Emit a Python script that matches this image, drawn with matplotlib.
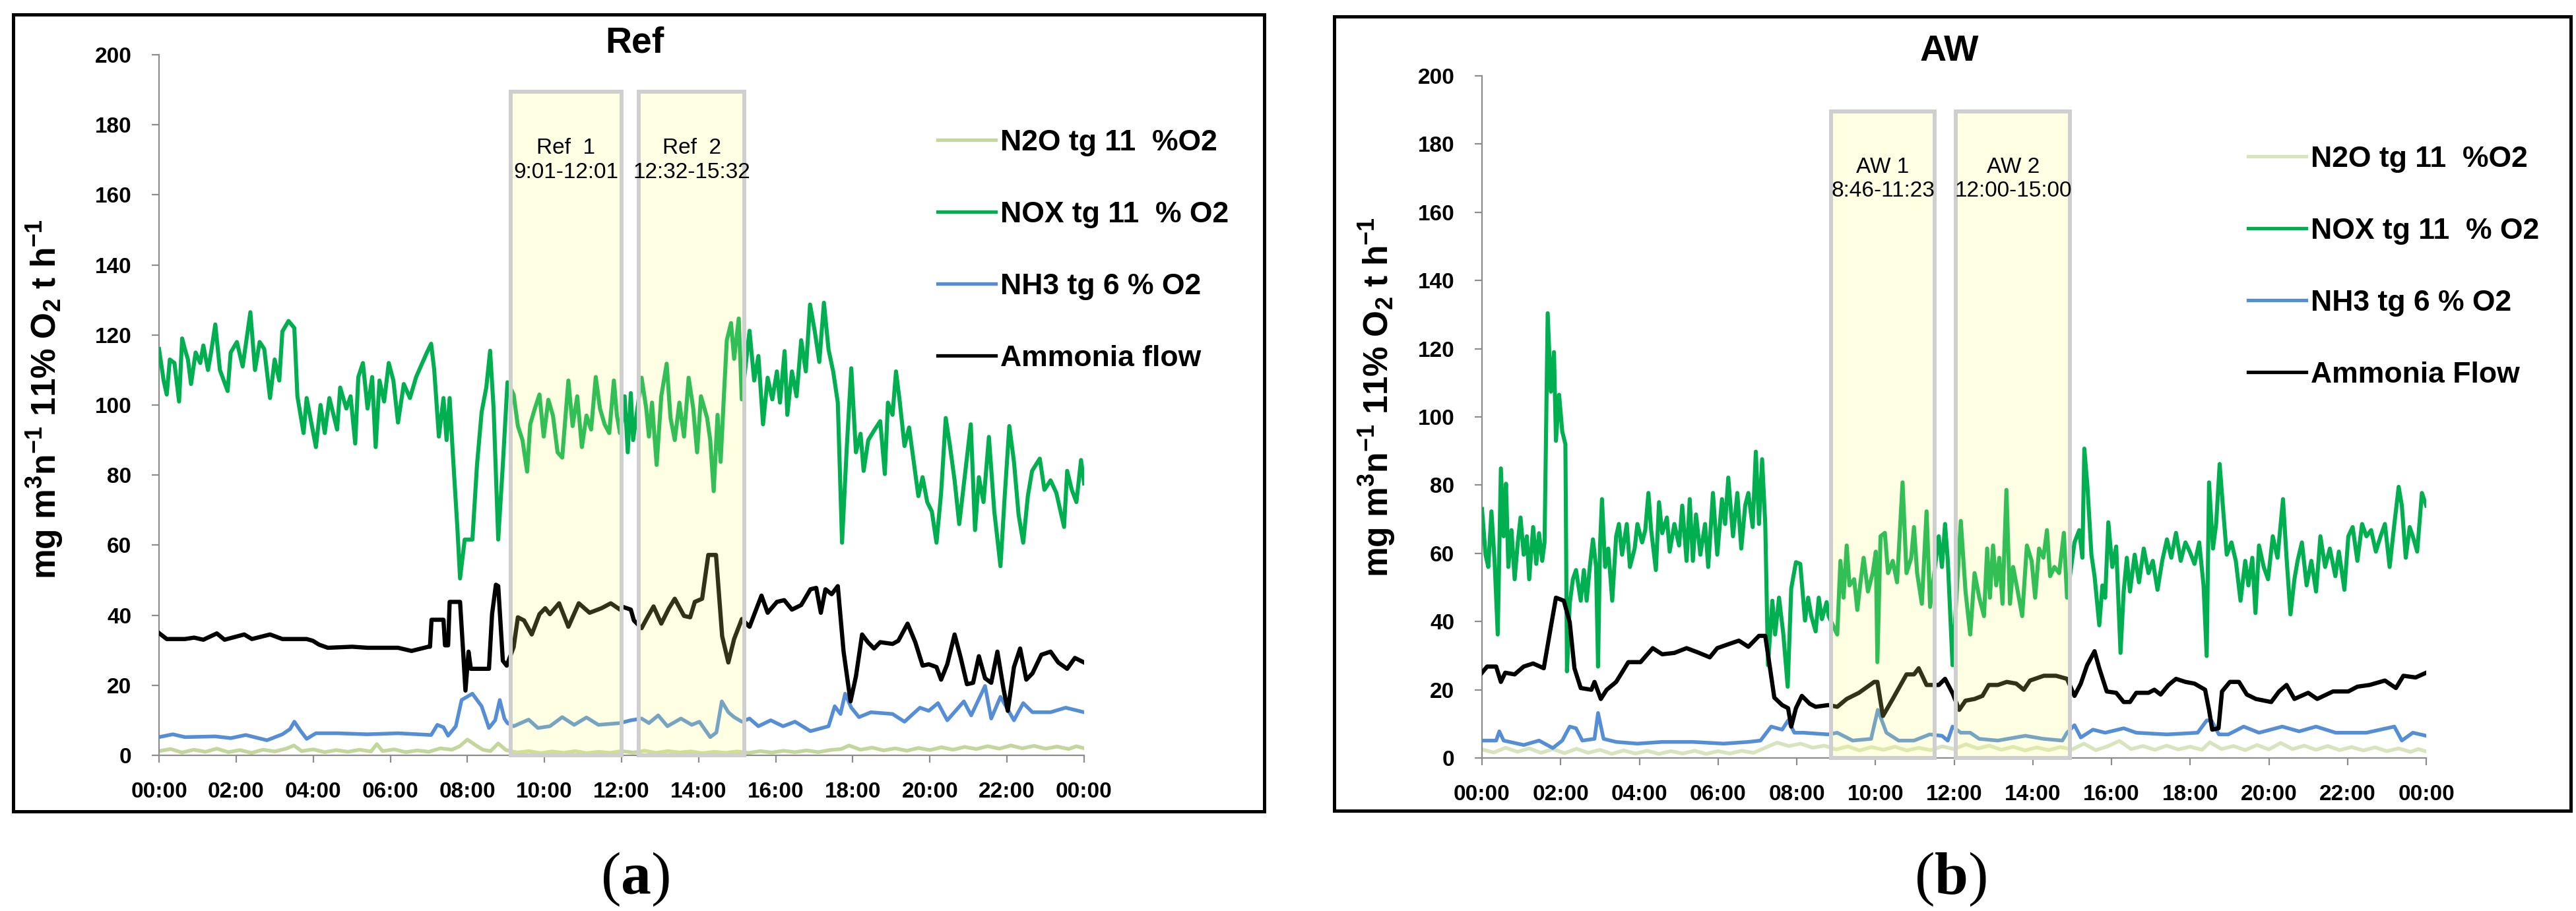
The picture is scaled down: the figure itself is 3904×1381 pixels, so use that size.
import numpy as np
import matplotlib
matplotlib.use("Agg")
import matplotlib.pyplot as plt
from matplotlib import font_manager as fm
from matplotlib.patches import Rectangle

# ---------------- data (hours, mg m3n-1) ----------------
ref_nox = [(0.00,116),(0.12,107),(0.20,103),(0.28,113),(0.40,112),(0.52,101),(0.60,119),(0.67,116),(0.75,113),(0.83,106),
           (0.95,115),(1.07,112),(1.15,117),(1.27,110),(1.35,115),(1.46,123),(1.58,110),(1.78,104),(1.86,115),(2.02,118),
           (2.17,111),(2.37,126.5),(2.49,110),(2.61,118),(2.73,116),(2.88,102),(3.00,113),(3.12,107),(3.20,121),(3.36,124),
           (3.51,122),(3.59,102.5),(3.75,92),(3.83,102),(4.07,88),(4.19,100),(4.30,92),(4.42,102),(4.62,93),(4.70,105),
           (4.86,99),(4.97,102.5),(5.09,89),(5.17,108),(5.29,112),(5.41,99),(5.53,108),(5.62,88),(5.72,107),(5.84,101),
           (5.96,112),(6.08,107),(6.20,95),(6.35,106),(6.51,102),(6.67,108),(6.79,111),(6.95,115),(7.06,117.5),(7.14,110),
           (7.26,91),(7.38,102),(7.46,90),(7.54,102),(7.62,86.5),(7.74,65),(7.81,50.5),(7.93,61.6),(8.13,61.6),(8.25,83),
           (8.37,98),(8.49,105),(8.59,115.5),(8.68,99),(8.80,61.6),(8.92,83),(9.04,106.5),(9.20,103),(9.31,94),(9.43,90),
           (9.55,81),(9.63,94.5),(9.75,99),(9.87,103),(9.98,91),(10.10,101.5),(10.22,97),(10.34,86.5),(10.46,85),(10.62,107),
           (10.73,94),(10.85,102.5),(10.97,88),(11.09,97),(11.21,93),(11.33,108),(11.44,99),(11.56,94.5),(11.68,92),(11.80,107),
           (11.88,97),(11.96,92),(12.00,94.5),(12.08,102.5),(12.16,86.5),(12.24,103.4),(12.30,90),(12.52,107.8),(12.64,99),(12.71,91),
           (12.79,100.7),(12.91,82.9),(13.03,102.5),(13.17,111.8),(13.27,96.3),(13.38,90),(13.50,100.7),(13.62,91),(13.74,107.8),(13.86,99),
           (13.96,86.5),(14.06,102.5),(14.22,96.3),(14.30,90),(14.39,75.4),(14.49,97.2),(14.57,83.8),(14.65,101.6),(14.73,118.5),(14.84,123.4),
           (14.92,113.2),(15.04,124.7),(15.12,101.6),(15.32,121.2),(15.44,107),(15.55,114),(15.67,94.5),(15.79,107.8),(15.91,101.6),(16.03,109.6),
           (16.11,100.7),(16.23,115.4),(16.30,97.2),(16.42,109.6),(16.54,102.5),(16.66,118.5),(16.78,109.6),(16.89,128.7),(17.01,121.2),(17.13,112.3),
           (17.25,129.2),(17.37,115.8),(17.49,109.6),(17.61,100.7),(17.72,60.7),(17.84,87.4),(17.96,110.5),(18.08,86.5),(18.20,91.8),(18.28,81.2),
           (18.40,90),(18.55,92.7),(18.71,95.4),(18.83,80.3),(18.91,100.7),(19.03,97.2),(19.12,109.6),(19.22,100.7),(19.34,88.3),(19.46,93.6),
           (19.58,83.8),(19.70,74),(19.81,79.4),(19.93,72.3),(20.05,69.6),(20.17,60.7),(20.29,74.9),(20.41,96.3),(20.52,88.3),(20.64,78.5),
           (20.76,66),(20.92,81.2),(21.06,94.5),(21.17,64.3),(21.27,79.4),(21.39,72.3),(21.53,90.9),(21.67,69.6),(21.83,54),(21.94,74),
           (22.06,94),(22.18,83.8),(22.30,68.7),(22.42,60.7),(22.54,74),(22.65,81.2),(22.85,84.7),(22.97,75.8),(23.13,78.5),(23.28,74.9),
           (23.48,65.2),(23.56,81.2),(23.68,75.8),(23.80,72.3),(23.92,84.3),(24.00,77.6)]

ref_flow = [(0.00,34.9),(0.20,33.2),(0.67,33.2),(0.91,33.6),(1.15,33),(1.50,34.8),(1.70,33),(2.21,34.5),(2.41,33.2),(2.88,34.5),
            (3.20,33.2),(3.83,33.2),(3.99,32.7),(4.15,31.6),(4.38,30.7),(5.01,31),(5.41,30.7),(6.20,30.7),(6.55,29.8),(6.99,31),
            (7.03,31),(7.07,38.7),(7.38,38.7),(7.42,31.4),(7.50,31.4),(7.54,43.8),(7.81,43.8),(7.89,29.6),(7.95,18.5),(8.03,29.6),
            (8.09,24.7),(8.56,24.7),(8.64,40.3),(8.74,48.7),(8.80,48.3),(8.92,27),(9.02,25.6),(9.20,30.9),(9.31,39.4),(9.47,38.5),
            (9.67,34.5),(9.87,40.3),(10.02,42),(10.14,40.3),(10.38,43.4),(10.62,36.7),(10.89,43.4),(11.17,40.7),(11.48,42),(11.72,43.4),
            (11.96,41.6),(12.00,42.5),(12.24,41.6),(12.32,38.5),(12.52,36.3),(12.67,39.4),(12.83,42.5),(13.03,37.6),(13.23,42),(13.38,44.7),
            (13.62,39.8),(13.78,39.4),(13.90,43.8),(14.09,44.7),(14.25,57.2),(14.45,57.2),(14.61,34),(14.77,26.5),(14.92,33.2),(15.12,38.9),
            (15.32,36.7),(15.63,45.6),(15.79,40.7),(16.03,43.8),(16.22,44.3),(16.42,41.6),(16.66,42.9),(16.90,47.4),(17.05,47.8),(17.17,40.7),
            (17.29,47.4),(17.45,46),(17.61,48.3),(17.76,29.6),(17.94,15.4),(18.08,22.5),(18.24,34.5),(18.39,32.3),(18.55,30.5),(18.71,32.3),
            (19.03,31.8),(19.18,32.7),(19.42,37.6),(19.62,32.3),(19.81,25.6),(19.97,26),(20.17,25.2),(20.29,21.6),(20.45,26),(20.64,34.5),
            (20.80,27.8),(20.96,20.3),(21.12,20.7),(21.27,28.3),(21.43,22),(21.59,20.7),(21.75,29.6),(21.91,18.9),(22.02,12.7),(22.18,25.2),
            (22.34,30.5),(22.50,21.6),(22.66,23.4),(22.89,28.7),(23.13,29.6),(23.33,26.5),(23.56,24.7),(23.76,27.8),(24.00,26.5)]

ref_nh3 = [(0.00,5.2),(0.36,6),(0.67,5.2),(1.46,5.4),(1.86,4.9),(2.25,5.8),(2.80,4.3),(3.20,6),(3.40,7.5),(3.51,9.6),
           (3.67,7),(3.83,4.7),(4.07,6.3),(4.62,6.3),(5.41,6),(6.20,6.3),(7.06,5.8),(7.22,8.7),(7.38,8),(7.50,5.6),
           (7.70,8.3),(7.85,15.8),(8.13,17.6),(8.37,14),(8.56,7.8),(8.72,10),(8.84,15.8),(8.96,10.5),(9.04,9.2),(9.20,8.3),
           (9.59,10.2),(9.83,7.8),(10.14,8.3),(10.46,10.9),(10.77,8.7),(11.09,10.8),(11.40,8.7),(11.96,9.2),(12.24,10),(12.52,10.5),
           (12.71,9.2),(12.95,11.4),(13.19,8.3),(13.54,10.5),(13.82,8.7),(14.02,9.6),(14.30,5.2),(14.46,6.5),(14.60,15.4),(14.77,12.3),
           (14.92,10.9),(15.12,9.6),(15.32,10.5),(15.55,8.3),(15.87,10),(16.19,8.3),(16.50,9.6),(16.90,6.9),(17.37,8.3),(17.53,14),
           (17.68,11.8),(17.80,17.6),(17.96,13.6),(18.16,10.9),(18.47,12.3),(19.03,11.8),(19.34,9.6),(19.74,13.6),(19.97,12.7),(20.21,14.9),
           (20.45,10),(20.88,15.4),(21.07,11.4),(21.43,19.8),(21.59,10.5),(21.83,16.7),(22.18,10),(22.42,14.9),(22.66,12.3),(23.13,12.3),
           (23.52,13.6),(24.00,12.3)]

ref_n2o = [(0,1.2),(0.3,1.8),(0.6,0.8),(0.9,1.6),(1.2,1.0),(1.5,1.9),(1.8,0.9),(2.1,1.5),(2.4,0.7),(2.7,1.6),
           (3.0,1.1),(3.3,1.9),(3.5,2.8),(3.7,1.2),(4.0,1.7),(4.3,0.9),(4.6,1.5),(4.9,1.0),(5.2,1.6),(5.5,1.1),
           (5.65,3.2),(5.8,1.2),(6.1,1.7),(6.4,0.9),(6.7,1.4),(7.0,1.0),(7.3,2.0),(7.6,1.6),(7.8,2.6),(8.0,4.5),
           (8.2,3.0),(8.4,1.6),(8.6,1.2),(8.8,3.4),(9.0,1.5),(9.3,0.8),(9.6,1.2),(9.9,0.6),(10.2,1.1),(10.5,0.7),
           (10.8,1.2),(11.1,0.6),(11.4,1.0),(11.7,0.7),(12.0,1.2),(12.3,0.8),(12.6,1.3),(12.9,0.7),(13.2,1.2),(13.5,0.8),
           (13.8,1.1),(14.1,0.6),(14.4,1.0),(14.7,0.7),(15.0,1.1),(15.3,0.7),(15.6,1.2),(15.9,0.8),(16.2,1.3),(16.5,0.9),
           (16.8,1.4),(17.1,0.9),(17.4,1.5),(17.7,1.8),(17.9,2.8),(18.2,1.6),(18.5,2.2),(18.8,1.4),(19.1,2.0),(19.4,1.3),
           (19.7,2.1),(20.0,1.5),(20.3,2.3),(20.6,1.6),(20.9,2.4),(21.2,1.8),(21.5,2.6),(21.8,1.9),(22.1,2.8),(22.4,2.0),
           (22.7,2.7),(23.0,1.9),(23.3,2.5),(23.6,1.8),(23.8,2.6),(24.0,2.0)]

aw_nox = [(0.00,73),(0.09,59.6),(0.16,56),(0.24,72.3),(0.32,57.8),(0.40,36.2),(0.48,84.9),(0.55,65),(0.61,80.4),(0.67,56),
          (0.75,66.8),(0.83,52.4),(0.91,63.2),(0.98,70.5),(1.06,59.6),(1.14,65),(1.20,52.4),(1.30,67.7),(1.38,56.9),(1.45,65.9),
          (1.53,57.8),(1.59,63.2),(1.67,130.4),(1.75,107.4),(1.83,119),(1.88,93),(1.96,106.5),(2.04,95.7),(2.12,92),(2.16,25.4),
          (2.23,45.2),(2.31,52.4),(2.39,55.1),(2.51,46.1),(2.59,55.1),(2.66,46.1),(2.74,56),(2.82,64.1),(2.90,56),(2.95,26.8),
          (3.00,62.3),(3.05,75.9),(3.13,56),(3.21,61.4),(3.31,46.1),(3.41,65),(3.48,68.6),(3.56,59.6),(3.68,68.6),(3.76,56),
          (3.88,61.4),(3.95,68.6),(4.07,63.2),(4.15,66.8),(4.23,77.7),(4.30,66.8),(4.42,55.1),(4.50,75),(4.58,65.9),(4.70,70.5),
          (4.77,60.5),(4.89,68.6),(5.01,62.3),(5.09,74),(5.20,57.8),(5.28,75.9),(5.36,57.8),(5.44,71.4),(5.55,59.6),(5.67,68.6),
          (5.75,56),(5.87,77.7),(5.98,59.6),(6.10,75.9),(6.18,68.6),(6.26,82.2),(6.38,65),(6.49,77.7),(6.59,61.4),(6.69,74),
          (6.77,77.7),(6.88,67.7),(6.96,89.8),(7.04,68.6),(7.12,87.6),(7.20,68.6),(7.27,27.2),(7.38,46.1),(7.45,36.2),(7.55,47),
          (7.66,36.2),(7.77,20.9),(7.86,49.7),(7.98,57.4),(8.09,56.9),(8.21,40.3),(8.29,47),(8.37,41.6),(8.48,37.1),(8.56,47),
          (8.64,40.7),(8.76,45.7),(8.81,41.6),(9.03,36.2),(9.11,57.8),(9.19,47),(9.27,62.3),(9.34,50.6),(9.46,52.4),(9.54,43.4),
          (9.62,51.5),(9.70,58.7),(9.81,48.8),(9.93,54.2),(10.01,60.5),(10.05,28.1),(10.13,65),(10.24,66),(10.32,54.2),(10.44,57.8),
          (10.55,51.5),(10.69,80.8),(10.79,54.2),(10.91,58.7),(10.98,67.7),(11.06,54.2),(11.18,45.2),(11.30,72.3),(11.39,44.3),(11.61,65),
          (11.69,56),(11.77,68.6),(11.84,57.8),(11.96,27.2),(12.17,69.5),(12.29,48.8),(12.41,36.2),(12.52,54.2),(12.64,47),(12.76,41.6),
          (12.84,61.4),(12.91,47),(12.99,62.3),(13.07,50.6),(13.15,58.7),(13.23,45.2),(13.33,78.6),(13.42,45.2),(13.50,56),(13.59,50.6),
          (13.73,41.6),(13.85,62.3),(13.97,57.8),(14.06,47),(14.16,61.4),(14.27,58.7),(14.36,66.8),(14.44,53.3),(14.55,56),(14.67,54.2),
          (14.79,66),(14.87,47),(15.06,63.2),(15.18,66.8),(15.26,58.7),(15.31,90.7),(15.39,79.5),(15.49,59.6),(15.57,53.3),(15.69,38.9),
          (15.77,50.6),(15.84,47),(15.92,69.1),(16.02,56),(16.12,62),(16.23,30.8),(16.31,48.8),(16.39,58.7),(16.47,48.8),(16.59,59.6),
          (16.70,51.5),(16.82,61.4),(16.94,54.2),(17.05,57.8),(17.17,49.3),(17.29,57.8),(17.41,64.1),(17.52,58.7),(17.64,66),(17.76,57.8),
          (17.88,63.2),(17.99,60.5),(18.11,56.9),(18.23,63.2),(18.34,50.6),(18.42,29.9),(18.48,80.8),(18.58,61.4),(18.66,68.6),(18.75,86.2),
          (18.83,74),(18.93,59.6),(19.05,63.2),(19.16,57.8),(19.28,46.1),(19.40,57.8),(19.48,50.6),(19.58,58.7),(19.66,42.5),(19.75,62.3),
          (19.87,56),(19.98,52.4),(20.10,65),(20.22,58.7),(20.36,75.9),(20.45,58.7),(20.55,42.1),(20.65,52.4),(20.73,57.8),(20.84,63.2),
          (20.96,50.6),(21.08,57.8),(21.20,48.8),(21.31,65),(21.43,56),(21.55,61.4),(21.69,53.3),(21.78,60.5),(21.92,49.3),(22.02,65),
          (22.13,67.7),(22.25,57.8),(22.37,68.6),(22.48,65),(22.60,66.8),(22.72,60.5),(22.84,65),(22.95,68.6),(23.07,56),(23.19,68.6),
          (23.30,79.5),(23.38,74),(23.48,58.7),(23.58,67.7),(23.66,65),(23.77,60.5),(23.89,77.7),(24.00,74)]

aw_flow = [(0.00,25),(0.13,26.8),(0.36,26.8),(0.48,22.3),(0.59,25),(0.83,24.5),(1.06,26.8),(1.30,27.7),(1.57,26.3),(1.73,37.1),
           (1.88,47),(2.08,46.1),(2.23,39.8),(2.35,26.3),(2.51,20.5),(2.78,20),(2.86,22.3),(3.02,17.3),(3.17,20),(3.41,22.3),
           (3.72,28.1),(4.03,28.1),(4.34,32.2),(4.58,30.4),(4.89,30.8),(5.20,32.2),(5.52,30.8),(5.79,29.5),(5.98,32.2),(6.30,33.5),
           (6.53,34.4),(6.77,32.6),(7.04,35.8),(7.20,35.8),(7.31,27.2),(7.43,17.7),(7.63,15.5),(7.78,14.6),(7.86,9.2),(7.98,14.6),
           (8.13,18.2),(8.33,15.9),(8.48,15),(8.80,15.5),(9.03,15),(9.27,17.3),(9.58,19.1),(9.97,22.3),(10.05,22.3),(10.19,12.3),
           (10.44,17.3),(10.79,24.5),(10.98,24.5),(11.10,26.3),(11.30,21.4),(11.41,21.4),(11.61,21.4),(11.77,23.2),(11.96,19),(12.13,14.1),
           (12.29,16.8),(12.52,17.3),(12.72,18.2),(12.88,21.4),(13.11,21.4),(13.34,22.3),(13.58,21.8),(13.77,20),(13.93,22.7),(14.28,24.1),
           (14.59,24.1),(14.87,23.2),(15.06,18.2),(15.22,21.8),(15.38,27.2),(15.57,31.3),(15.69,26.3),(15.88,19.5),(16.12,19.1),(16.31,16.4),
           (16.47,16.4),(16.63,19.1),(16.94,19.1),(17.09,20),(17.25,18.6),(17.45,21.4),(17.64,23.2),(17.88,22.3),(18.11,21.8),(18.38,20),
           (18.48,14.1),(18.56,8.3),(18.72,8.7),(18.81,19.5),(19.01,22.3),(19.24,22.3),(19.44,18.6),(19.67,17.3),(20.06,16.4),(20.26,19.5),
           (20.45,21.4),(20.65,17.3),(21.00,19.1),(21.23,17.3),(21.63,19.5),(22.02,19.5),(22.25,20.9),(22.56,21.4),(22.95,22.7),(23.23,20.5),
           (23.42,24.1),(23.73,23.6),(24.00,25)]

aw_nh3 = [(0.00,5.1),(0.36,5.1),(0.44,7.8),(0.55,5.1),(1.06,3.8),(1.45,5.1),(1.80,2.9),(2.04,5.1),(2.23,9.2),(2.39,8.7),
          (2.55,5.1),(2.86,5.6),(2.95,13.2),(3.09,5.6),(3.41,4.7),(3.95,4.2),(4.58,4.7),(5.36,4.7),(6.14,4.2),(6.77,4.7),
          (7.08,5.1),(7.35,9.2),(7.63,8.3),(7.78,11),(7.94,7.4),(8.17,7.4),(8.80,6.9),(9.03,7.4),(9.42,5.1),(9.89,5.6),
          (10.06,14.1),(10.28,7.4),(10.59,5.1),(10.98,5.1),(11.38,6.9),(11.69,6.5),(11.84,5.1),(11.96,9.2),(12.17,7.4),(12.41,7.4),
          (12.64,5.6),(13.11,5.1),(13.81,6.5),(14.28,5.6),(14.75,5.1),(14.87,7.4),(15.06,9.6),(15.22,6),(15.53,8.3),(15.84,7.4),
          (16.31,8.7),(16.63,7.4),(17.41,6.9),(18.19,7.4),(18.42,11),(18.54,11),(18.73,6.9),(18.97,6.9),(19.36,9.2),(19.75,7.4),
          (20.34,9.2),(20.77,7.8),(21.20,9.2),(21.70,7.4),(22.48,7.4),(23.19,9.2),(23.38,5.1),(23.66,7.4),(24.00,6.5)]

aw_n2o = [(0,2.5),(0.3,1.6),(0.6,3.0),(0.9,1.8),(1.2,2.8),(1.5,1.5),(1.8,2.6),(2.1,1.4),(2.4,2.7),(2.7,1.5),
          (3.0,2.4),(3.3,1.2),(3.6,2.2),(3.9,1.3),(4.2,2.1),(4.5,1.2),(4.8,2.0),(5.1,1.3),(5.4,2.1),(5.7,1.2),
          (6.0,2.0),(6.3,1.3),(6.6,2.1),(6.9,1.5),(7.2,3.0),(7.5,4.5),(7.8,3.5),(8.1,4.2),(8.4,3.0),(8.7,3.6),
          (9.0,2.5),(9.3,3.4),(9.6,2.2),(9.9,3.2),(10.2,2.4),(10.5,3.3),(10.8,2.2),(11.1,3.0),(11.4,2.3),(11.7,3.4),
          (12.0,2.6),(12.3,4.0),(12.6,2.8),(12.9,3.6),(13.2,2.4),(13.5,3.3),(13.8,2.2),(14.1,3.1),(14.4,2.3),(14.7,3.2),
          (15.0,2.5),(15.3,4.2),(15.6,2.3),(15.9,3.4),(16.2,5.0),(16.5,2.6),(16.8,3.5),(17.1,2.4),(17.4,3.6),(17.7,2.5),
          (18.0,3.3),(18.3,2.4),(18.5,4.6),(18.8,2.6),(19.1,3.5),(19.4,2.3),(19.7,3.8),(20.0,2.5),(20.3,4.4),(20.6,2.6),
          (20.9,3.6),(21.2,2.4),(21.5,3.5),(21.8,2.3),(22.1,3.2),(22.4,2.2),(22.7,3.1),(23.0,2.0),(23.3,2.8),(23.6,1.8),
          (23.8,2.6),(24.0,1.9)]

# sampling windows (start h, end h, name, time span)
ref_windows = [(9.12, 12.0, "Ref  1", "9:01-12:01"), (12.45, 15.18, "Ref  2", "12:32-15:32")]
aw_windows = [(8.88, 11.5, "AW 1", "8:46-11:23"), (12.05, 14.95, "AW 2", "12:00-15:00")]

series_labels = ["N2O tg 11  %O2", "NOX tg 11  % O2", "NH3 tg 6 % O2"]

hour_ticks = list(range(0, 25, 2))
hour_labels = ["%02d:00" % (h % 24) for h in hour_ticks]

# ---------------- fonts ----------------
names = {f.name for f in fm.fontManager.ttflist}
narrow = None
for cand in ("Liberation Sans Narrow", "Arial Narrow", "Nimbus Sans Narrow"):
    if cand in names:
        narrow = cand
        break
if narrow is None:
    narrow = "Liberation Sans"
    small_size = 24
else:
    small_size = 27

plt.rcParams["font.family"] = ["Liberation Sans", "DejaVu Sans"]
plt.rcParams["mathtext.fontset"] = "custom"
plt.rcParams["mathtext.bf"] = "Liberation Serif:bold"
plt.rcParams["mathtext.default"] = "regular"

W, H = 3904, 1381
fig = plt.figure(figsize=(W / 100, H / 100), dpi=100)
fig.patch.set_facecolor("white")


def fx(x):
    return x / W


def fy(y):
    return 1 - y / H


def draw_panel(ax, nox, flow, nh3, n2o, n2o_color, windows, flow_label):
    t, v = np.array(n2o).T
    ax.plot(t, v, color=n2o_color, lw=4.0, label=series_labels[0], zorder=2)
    t, v = np.array(nox).T
    ax.plot(t, v, color="#00b050", lw=4.4, label=series_labels[1], zorder=3)
    t, v = np.array(nh3).T
    ax.plot(t, v, color="#558ed5", lw=4.0, label=series_labels[2], zorder=4)
    t, v = np.array(flow).T
    ax.plot(t, v, color="black", lw=4.6, label=flow_label, zorder=5)

    for t0, t1, name, span in windows:
        ax.add_patch(Rectangle((t0, 0), t1 - t0, 189.5, facecolor=(1, 1, 0.45, 0.2),
                               edgecolor="#cfcfcf", lw=4.3, zorder=6, clip_on=False))
        xc = (t0 + t1) / 2
        ax.text(xc, 173.3, name, ha="center", va="center", fontsize=small_size, family=narrow, zorder=7)
        ax.text(xc, 166.3, span, ha="center", va="center", fontsize=small_size, family=narrow, zorder=7)

    ax.set_xlim(0, 24)
    ax.set_ylim(0, 200)
    ax.set_xticks(hour_ticks)
    ax.set_xticklabels(hour_labels)
    ax.set_yticks(range(0, 201, 20))
    for s in ("top", "right"):
        ax.spines[s].set_visible(False)
    for s in ("left", "bottom"):
        ax.spines[s].set_color("#8c8c8c")
        ax.spines[s].set_linewidth(1.6)
    ax.tick_params(axis="both", direction="out", length=8, width=1.6, color="#8c8c8c",
                   labelsize=small_size)
    ax.tick_params(axis="x", pad=21)
    ax.tick_params(axis="y", pad=22)
    for lab in ax.get_xticklabels() + ax.get_yticklabels():
        lab.set_family(narrow)
        lab.set_fontweight("bold")
    ax.set_facecolor("none")


axA = fig.add_axes([fx(241), fy(1145), (1643 - 241) / W, (1145 - 83) / H])
axB = fig.add_axes([fx(2246), fy(1149), (3677 - 2246) / W, (1149 - 115) / H])

draw_panel(axA, ref_nox, ref_flow, ref_nh3, ref_n2o, "#c3d69b", ref_windows, "Ammonia flow")
draw_panel(axB, aw_nox, aw_flow, aw_nh3, aw_n2o, "#d7e4bd", aw_windows, "Ammonia Flow")

ylab = "mg m$^{3}$n$^{-1}$ 11% O$_{2}$ t h$^{-1}$"
fig.text(fx(68), fy(605), ylab, rotation=90, ha="center", va="center", fontsize=37, fontweight="bold")
fig.text(fx(2087), fy(602), ylab, rotation=90, ha="center", va="center", fontsize=37, fontweight="bold")

fig.text(fx(962), fy(66), "Ref", ha="center", va="center", fontsize=40, fontweight="bold")
fig.text(fx(2954), fy(78), "AW", ha="center", va="center", fontsize=40, fontweight="bold")

for ax, (lx, ly) in ((axA, (1421, 196)), (axB, (3407, 221))):
    leg = ax.legend(loc="upper left", bbox_to_anchor=(fx(lx), fy(ly)), bbox_transform=fig.transFigure,
                    frameon=False, borderpad=0, borderaxespad=0, handlelength=1.98, handletextpad=0.15,
                    labelspacing=1.53, prop={"size": 32, "weight": "bold"})
    for line in leg.get_lines():
        line.set_linewidth(3.8)

# outer frames
fig.add_artist(Rectangle((fx(20), fy(1230)), (1916 - 20) / W, (1230 - 22) / H, transform=fig.transFigure,
                         fill=False, lw=3.6, ec="black"))
fig.add_artist(Rectangle((fx(2022), fy(1229)), (3896 - 2022) / W, (1229 - 25) / H, transform=fig.transFigure,
                         fill=False, lw=3.6, ec="black"))

fig.text(fx(962), fy(1333), r"($\mathbf{a}$)", ha="center", va="center", fontsize=66, family="Liberation Serif")
fig.text(fx(2956), fy(1333), r"($\mathbf{b}$)", ha="center", va="center", fontsize=66, family="Liberation Serif")

fig.savefig("out.png", dpi=100, facecolor="white")
